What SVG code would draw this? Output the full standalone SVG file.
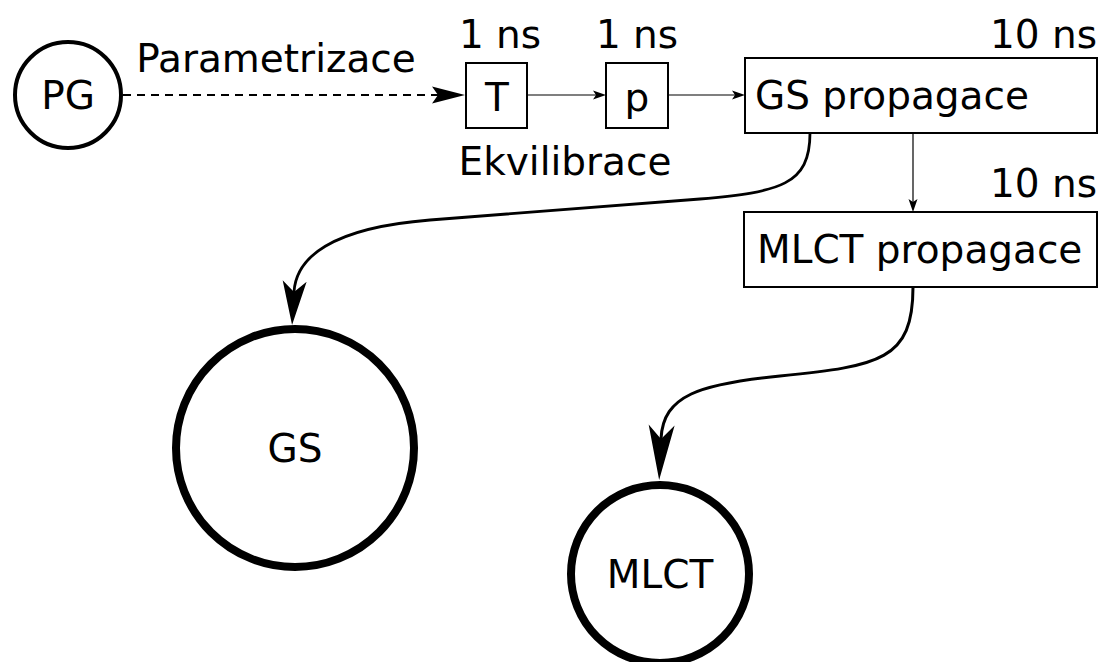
<svg xmlns="http://www.w3.org/2000/svg" width="1102" height="662" viewBox="0 0 1102 662">
<style>
text{font-family:"DejaVu Sans","Liberation Sans",sans-serif;font-size:39px;fill:#000}
.box{fill:#fff;stroke:#000;stroke-width:2}
.c{fill:#fff;stroke:#000}
.ln{fill:none;stroke:#000}
</style>
<defs>
<marker id="aBig" markerUnits="userSpaceOnUse" overflow="visible" orient="auto" refX="0" refY="0" markerWidth="1" markerHeight="1"><path d="M33,0 L-11,-12 L0,0 L-11,12 Z" fill="#000"/></marker>
<marker id="aBig2" markerUnits="userSpaceOnUse" overflow="visible" orient="auto" refX="0" refY="0" markerWidth="1" markerHeight="1"><path d="M41,0 L-14,-13 L0,0 L-14,13 Z" fill="#000"/></marker>
<marker id="aDash" markerUnits="userSpaceOnUse" overflow="visible" orient="auto" refX="0" refY="0" markerWidth="1" markerHeight="1"><path d="M27,0 L-6,-8.5 L0,0 L-6,8.5 Z" fill="#000"/></marker>
<marker id="aSm" markerUnits="userSpaceOnUse" overflow="visible" orient="auto" refX="0" refY="0" markerWidth="1" markerHeight="1"><path d="M10,0 L-3,-4.5 L0,0 L-3,4.5 Z" fill="#000"/></marker>
</defs>
<g id="connectors">
<path class="ln" d="M123,95 L438,95" stroke-width="2" stroke-dasharray="8,6" marker-end="url(#aDash)"/>
<path class="ln" d="M527,95 L596,95" stroke-width="1.2" marker-end="url(#aSm)"/>
<path class="ln" d="M668,95 L735,95" stroke-width="1.2" marker-end="url(#aSm)"/>
<path class="ln" d="M913,133 L913,202" stroke-width="1.2" marker-end="url(#aSm)"/>
<path class="ln" d="M810,133 C810,185 780,192 700,199 L430,220 C330,228 296,258 294,292" stroke-width="2.8" marker-end="url(#aBig)"/>
<path class="ln" d="M913,287 C913,360 880,366 780,376 C700,384 663,395 661,439" stroke-width="3" marker-end="url(#aBig2)"/>
</g>
<g id="PG"><circle class="c" cx="68" cy="95" r="53" stroke-width="4"/><text x="68" y="109" text-anchor="middle">PG</text></g>
<g id="Parametrizace-label"><text x="276" y="72" text-anchor="middle">Parametrizace</text></g>
<g id="T"><rect class="box" x="466" y="63" width="61" height="65"/><text x="497" y="111" text-anchor="middle">T</text><text x="500" y="48" text-anchor="middle">1 ns</text></g>
<g id="p"><rect class="box" x="606" y="63" width="62" height="65"/><text x="637" y="111" text-anchor="middle">p</text><text x="637" y="48" text-anchor="middle">1 ns</text></g>
<g id="Ekvilibrace-label"><text x="565" y="175" text-anchor="middle">Ekvilibrace</text></g>
<g id="GSprop"><rect class="box" x="745" y="58" width="352" height="75"/><text x="755" y="109">GS propagace</text><text x="1097" y="48" text-anchor="end">10 ns</text></g>
<g id="MLCTprop"><rect class="box" x="744" y="212" width="353" height="75"/><text x="757" y="263">MLCT propagace</text><text x="1097" y="197" text-anchor="end">10 ns</text></g>
<g id="GS"><circle class="c" cx="295" cy="448" r="119" stroke-width="8"/><text x="295" y="462" text-anchor="middle">GS</text></g>
<g id="MLCT"><circle class="c" cx="660" cy="574" r="89" stroke-width="8"/><text x="660" y="588" text-anchor="middle">MLCT</text></g>
</svg>
